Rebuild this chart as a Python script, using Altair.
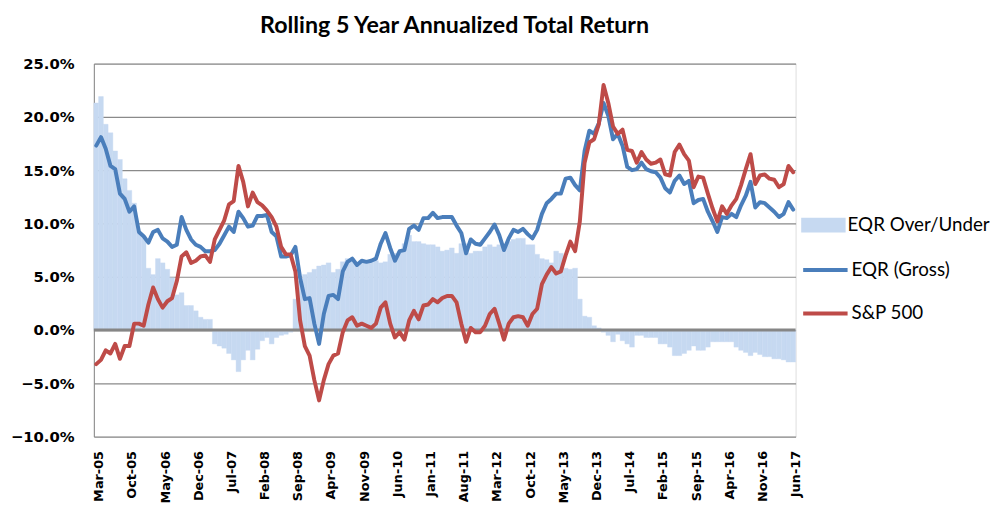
import altair as alt
import pandas as pd

# ---- data (percent values) ----
months = list(pd.date_range("2005-03-01", periods=148, freq="MS").strftime("%b-%y"))
tick_labels = months[::7]

eqr_gross = [
    17.3, 18.1, 17.0, 15.4, 15.1, 12.8, 12.3, 11.1, 11.6, 9.2, 8.8, 8.2, 9.2, 9.4, 8.6, 8.3, 7.8, 8.0, 10.6, 9.4, 8.5, 8.0, 7.8, 7.4, 7.4,
    7.5, 8.1, 8.9, 9.7, 9.2, 11.1, 10.5, 9.7, 9.8, 10.7, 10.7, 10.8, 9.2, 8.8, 6.9, 6.9, 7.0, 7.8, 4.9, 2.9, 3.0, 0.6, -1.3, 1.5, 3.2,
    3.3, 2.9, 5.5, 6.4, 6.7, 6.1, 6.5, 6.4, 6.5, 6.7, 8.1, 9.1, 7.7, 6.5, 7.4, 7.5, 9.5, 9.8, 9.4, 10.5, 10.5, 11.0, 10.5, 10.6, 10.6,
    10.6, 9.8, 9.1, 7.2, 8.5, 8.1, 8.0, 8.6, 9.2, 9.9, 8.9, 7.5, 8.6, 9.4, 9.2, 9.5, 9.0, 8.6, 9.4, 10.9, 11.9, 12.3, 12.8, 12.8, 14.2,
    14.3, 13.6, 13.1, 16.8, 18.7, 18.4, 19.4, 21.3, 20.1, 17.9, 18.4, 17.3, 15.3, 15.0, 15.1, 15.7, 15.1, 14.9, 14.8, 14.3, 13.3, 12.9, 14.0, 14.5, 13.7,
    14.0, 11.9, 12.2, 12.3, 11.1, 10.2, 9.2, 10.6, 10.5, 10.9, 10.6, 11.7, 12.6, 13.9, 11.5, 12.0, 11.9, 11.5, 11.1, 10.6, 10.9, 12.0, 11.3,
]

sp500 = [
    -3.2, -2.8, -1.9, -2.2, -1.3, -2.7, -1.5, -1.5, 0.6, 0.6, 0.4, 2.4, 4.0, 2.9, 2.1, 2.7, 3.0, 4.6, 6.9, 7.3, 6.3, 6.5, 6.9, 7.0, 6.4,
    8.5, 9.4, 10.3, 11.8, 12.1, 15.4, 13.9, 11.6, 12.9, 12.0, 11.7, 11.2, 10.6, 9.7, 7.8, 7.1, 7.1, 5.5, 0.9, -1.5, -2.4, -4.7, -6.6, -4.7, -3.2,
    -2.4, -2.2, -0.2, 0.9, 1.2, 0.4, 0.6, 0.4, 0.2, 0.6, 2.1, 2.6, 0.6, -0.7, -0.2, -0.9, 0.9, 1.8, 1.0, 2.3, 2.4, 2.9, 2.6, 3.0, 3.2,
    3.2, 2.6, 0.6, -1.1, 0.2, -0.2, -0.2, 0.4, 1.5, 2.0, 0.6, -0.9, 0.6, 1.2, 1.3, 1.2, 0.4, 1.5, 2.0, 4.3, 5.2, 5.9, 5.3, 5.5, 7.0,
    8.3, 7.4, 10.2, 15.7, 17.6, 17.9, 19.3, 23.0, 21.3, 19.1, 18.4, 18.8, 16.9, 16.8, 15.7, 16.7, 16.0, 15.6, 15.7, 16.0, 14.6, 14.5, 16.7, 17.4, 16.5,
    15.9, 13.4, 14.4, 14.3, 12.8, 11.4, 10.2, 11.6, 10.9, 11.7, 12.3, 13.6, 15.1, 16.5, 13.7, 14.5, 14.6, 14.2, 14.1, 13.4, 13.7, 15.4, 14.8,
]

over_under = [
    21.3, 21.9, 19.3, 18.5, 16.8, 16.0, 14.2, 13.1, 11.9, 9.2, 8.8, 5.8, 5.2, 6.7, 6.3, 5.7, 4.9, 3.3, 3.5, 2.3, 2.3, 1.8, 1.2, 1.0, 1.0,
    -1.3, -1.5, -1.7, -2.2, -2.8, -3.9, -2.8, -1.9, -2.8, -1.8, -1.0, -0.7, -1.3, -0.7, -0.5, -0.4, -0.2, 2.9, 4.6, 5.2, 5.4, 5.7, 6.0, 6.1, 6.3,
    5.4, 5.7, 6.4, 6.7, 6.7, 6.2, 6.4, 6.4, 6.5, 6.5, 6.3, 6.4, 7.1, 7.2, 7.4, 8.1, 8.9, 8.3, 8.3, 8.1, 8.0, 8.0, 7.8, 7.4, 7.5,
    7.7, 7.2, 8.1, 8.1, 7.2, 7.4, 7.4, 7.8, 8.0, 7.8, 8.0, 8.1, 8.3, 8.5, 8.6, 8.6, 8.0, 8.0, 7.1, 6.7, 6.6, 6.3, 7.4, 7.2, 5.8,
    5.7, 5.8, 2.9, 1.3, 1.2, 0.4, 0.2, -0.2, -0.5, -1.1, -0.4, -1.0, -1.3, -1.6, -0.5, -0.5, -0.7, -0.7, -0.7, -1.3, -1.3, -1.6, -2.4, -2.4, -2.2,
    -1.9, -1.5, -1.9, -1.9, -1.6, -1.1, -1.1, -1.1, -1.1, -1.1, -1.6, -1.9, -2.1, -2.4, -2.1, -2.3, -2.5, -2.5, -2.7, -2.7, -2.8, -3.0, -3.0,
]

y_ticks = [-0.10, -0.05, 0.0, 0.05, 0.10, 0.15, 0.20, 0.25]
bar_name = "EQR Over/Under"
line_names = ["EQR (Gross)", "S&P 500"]
bar_color = "#C6D9F1"
line_colors = ["#4A7EBB", "#BE4B48"]

df_bar = pd.DataFrame({"month": months, "v": [x / 100 for x in over_under], "bar_s": bar_name})
df_line = pd.concat([
    pd.DataFrame({"month": months, "v": [x / 100 for x in eqr_gross], "line_s": line_names[0]}),
    pd.DataFrame({"month": months, "v": [x / 100 for x in sp500], "line_s": line_names[1]}),
])
df_zero = pd.DataFrame({"v": [0.0]})

x_enc = alt.X(
    "month:O", sort=months,
    scale=alt.Scale(paddingInner=0, paddingOuter=0),
    axis=alt.Axis(values=tick_labels, labelAngle=270, title=None, domain=False, ticks=False,
                  tickSize=0, grid=False, labelPadding=14, labelFont="DejaVu Sans",
                  labelFontWeight="bold", labelFontSize=13, labelColor="#000000", labelOffset=3),
)
y_enc = alt.Y(
    "v:Q",
    scale=alt.Scale(domain=[-0.10, 0.25], nice=False, zero=False),
    axis=alt.Axis(values=y_ticks, format=".1%", title=None, grid=True, gridColor="#8a8a8a",
                  gridWidth=1.2, domainColor="#868686", domainWidth=1, ticks=False, tickSize=0,
                  labelPadding=20, labelFont="DejaVu Sans", labelFontWeight="bold",
                  labelFontSize=15, labelColor="#000000"),
)

bars = alt.Chart(df_bar).mark_bar(stroke=bar_color, strokeWidth=0.4).encode(
    x=x_enc, y=y_enc,
    fill=alt.Fill("bar_s:N", scale=alt.Scale(domain=[bar_name], range=[bar_color]),
                  legend=alt.Legend(orient="none", legendX=716.7, legendY=141.3, title=None,
                                    symbolType="M-1,-0.333H1V0.333H-1Z", symbolSize=2025,
                                    symbolStrokeWidth=0, labelFont="Lato", labelFontSize=19,
                                    labelColor="#000000", labelOffset=2, padding=0)),
)

zero = alt.Chart(df_zero).mark_rule(color="#868686", strokeWidth=3).encode(y="v:Q")

lines = alt.Chart(df_line).mark_line(strokeWidth=4, strokeJoin="round", strokeCap="round").encode(
    x=x_enc, y=y_enc,
    stroke=alt.Stroke("line_s:N", scale=alt.Scale(domain=line_names, range=line_colors),
                      legend=alt.Legend(orient="none", legendX=716.7, legendY=184.7, title=None,
                                        symbolType="stroke", symbolSize=2025, symbolStrokeWidth=4,
                                        labelFont="Lato", labelFontSize=19, labelColor="#000000",
                                        labelOffset=2, padding=0, rowPadding=9)),
)

chart = alt.layer(bars, zero, lines).properties(
    width=711, height=378,
    title=alt.TitleParams("Rolling 5 Year Annualized Total Return", font="Lato", fontSize=23.5,
                          fontWeight="bold", anchor="middle", offset=0, baseline="alphabetic",
                          dx=10, color="#000000"),
    padding={"left": 2, "top": 3, "right": 0, "bottom": 0},
).configure_view(stroke=None).configure(background="white")

chart.save("out.html", embed_options={"renderer": "svg", "actions": False})
